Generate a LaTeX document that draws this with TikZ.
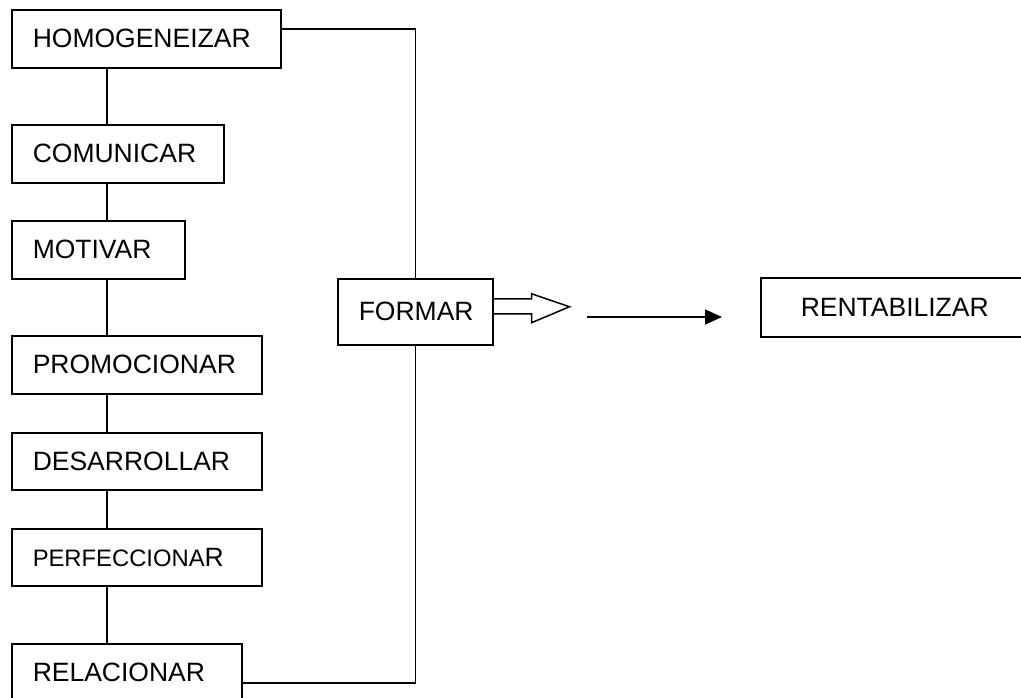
\documentclass[tikz,border=0pt]{standalone}
\usepackage{fontspec}
\setmainfont{Liberation Sans}
\usetikzlibrary{arrows.meta,calc}
\begin{document}
\begin{tikzpicture}[x=1pt,y=-1pt,
  box/.style={draw,line width=1.5pt,rectangle,anchor=north west,inner ysep=0pt,inner xsep=21pt,align=left,
    font=\fontsize{26.5}{30}\selectfont},
  conn/.style={line width=1.5pt}]
\useasboundingbox (0,0) rectangle (1021,697);
\clip (0,0) rectangle (1021,697);
\fill[white] (0,0) rectangle (1021,697);
\node[box,text width=227pt,minimum height=58pt] (hom) at (11,9) {HOMOGENEIZAR};
\node[box,text width=170pt,minimum height=58pt] (com) at (11,124) {COMUNICAR};
\node[box,text width=131pt,minimum height=58pt] (mot) at (11,220) {MOTIVAR};
\node[box,text width=208pt,minimum height=58pt] (pro) at (11,335) {PROMOCIONAR};
\node[box,text width=208pt,minimum height=57pt] (des) at (11,432) {DESARROLLAR};
\node[box,text width=208pt,minimum height=57pt] (per) at (11,528) {{\fontsize{23.8}{28}\selectfont PERFECCIONA}R};
\node[box,text width=188pt,minimum height=58pt] (rel) at (11,643) {RELACIONAR};
\node[box,text width=113pt,minimum height=66pt] (form) at (337,278) {FORMAR};
\node[box,inner xsep=40pt,text width=195pt,minimum height=59pt] (rent) at (760,277) {RENTABILIZAR};
\coordinate (sp) at (107,0);
\draw[conn] (hom.south -| sp) -- (com.north -| sp);
\draw[conn] (com.south -| sp) -- (mot.north -| sp);
\draw[conn] (mot.south -| sp) -- (pro.north -| sp);
\draw[conn] (pro.south -| sp) -- (des.north -| sp);
\draw[conn] (des.south -| sp) -- (per.north -| sp);
\draw[conn] (per.south -| sp) -- (rel.north -| sp);
\draw[conn] ([yshift=10pt]hom.east) -| (form.north);
\draw[conn] ([yshift=-10pt]rel.east) -| (form.south);
\draw[conn,line join=miter,shift={(form.east)}] (0,-13) -- (38,-13) -- (38,-18) -- (76,-5) -- (38,11) -- (38,2) -- (0,2);
\coordinate (a1) at (587,317);
\coordinate (a2) at (722,317);
\draw[conn,-{Triangle[length=17pt,width=15pt]}] (a1) -- (a2);
\end{tikzpicture}
\end{document}
